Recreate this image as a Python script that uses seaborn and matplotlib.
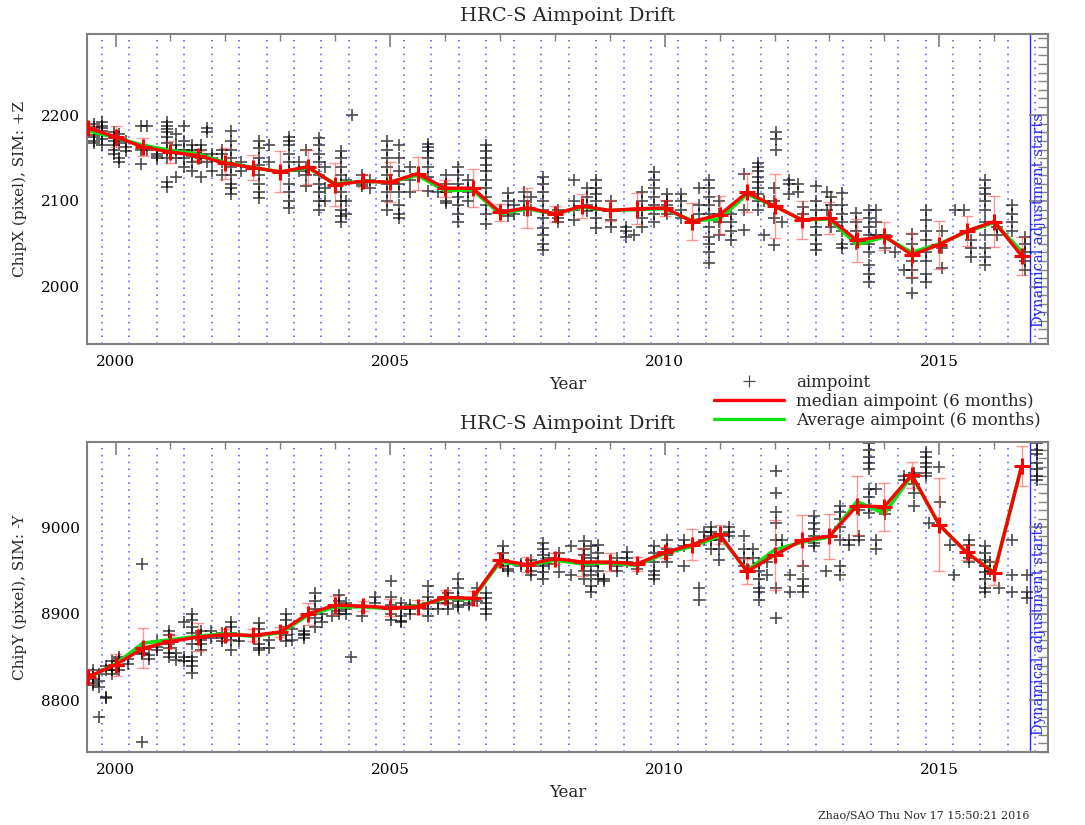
import pandas as pd
import seaborn as sns
import matplotlib.pyplot as plt
from matplotlib.lines import Line2D
from matplotlib.ticker import MultipleLocator

# 6-month bin centres
bin_t = [1999.5, 2000.0, 2000.5, 2001.0, 2001.5, 2002.0, 2002.5, 2003.0, 2003.5,
         2004.0, 2004.5, 2005.0, 2005.5, 2006.0, 2006.5, 2007.0, 2007.5, 2008.0,
         2008.5, 2009.0, 2009.5, 2010.0, 2010.5, 2011.0, 2011.5, 2012.0, 2012.5,
         2013.0, 2013.5, 2014.0, 2014.5, 2015.0, 2015.5, 2016.0, 2016.5]

# bin boundaries (dotted lines)
bound_t = [1999.75, 2000.25, 2000.75, 2001.25, 2001.75, 2002.25, 2002.75, 2003.25,
           2003.75, 2004.25, 2004.75, 2005.25, 2005.75, 2006.25, 2006.75, 2007.25,
           2007.75, 2008.25, 2008.75, 2009.25, 2009.75, 2010.25, 2010.75, 2011.25,
           2011.75, 2012.25, 2012.75, 2013.25, 2013.75, 2014.25, 2014.75, 2015.25,
           2015.75, 2016.25, 2016.75]
dyn_start = 2016.66

# ChipX
x_med = [2185, 2175, 2163, 2157, 2153, 2144, 2139, 2134, 2140, 2119, 2123, 2122,
         2132, 2115, 2115, 2087, 2092, 2085, 2094, 2089, 2091, 2092, 2076, 2084,
         2110, 2094, 2078, 2080, 2054, 2059, 2037, 2049, 2065, 2076, 2036]
x_avg = [2182, 2174, 2165, 2159, 2155, 2145, 2139, 2134, 2139, 2120, 2123, 2122,
         2130, 2112, 2113, 2085, 2091, 2085, 2093, 2089, 2090, 2091, 2077, 2079,
         2108, 2094, 2078, 2079, 2049, 2058, 2040, 2050, 2064, 2075, 2041]
x_err = [4, 12, 10, 13, 5, 18, 15, 24, 20, 25, 7, 23, 19, 10, 22, 10, 23, 9,
         14, 12, 18, 9, 22, 22, 23, 37, 22, 19, 25, 16, 26, 28, 17, 30, 22]

x_obs = [
    (1999.61, [2190, 2186, 2183, 2180, 2177, 2175, 2170, 2168]),
    (1999.76, [2192, 2188, 2185, 2182, 2178, 2172, 2165]),
    (1999.98, [2180, 2175, 2170, 2165, 2160, 2155]),
    (2000.07, [2178, 2168, 2150, 2145]),
    (2000.19, [2170, 2163, 2158]),
    (2000.46, [2188, 2160, 2143]),
    (2000.58, [2188, 2160]),
    (2000.76, [2155, 2152, 2150]),
    (2000.94, [2192, 2188, 2184, 2180, 2175, 2168, 2160, 2150, 2122, 2116]),
    (2001.10, [2178, 2165, 2160, 2150, 2128]),
    (2001.25, [2187, 2170, 2160, 2150, 2140]),
    (2001.40, [2165, 2160, 2152, 2145, 2135]),
    (2001.55, [2165, 2160, 2155, 2150, 2128]),
    (2001.67, [2185, 2180, 2145]),
    (2001.76, [2155, 2150, 2135]),
    (2001.94, [2160, 2155, 2145, 2130]),
    (2002.10, [2182, 2170, 2160, 2150, 2140, 2130, 2120, 2115, 2108]),
    (2002.28, [2145, 2135]),
    (2002.61, [2170, 2162, 2150, 2142, 2130, 2120, 2110, 2103]),
    (2002.79, [2165, 2145]),
    (2003.16, [2175, 2170, 2165, 2155, 2145, 2135, 2120, 2110, 2100, 2092]),
    (2003.34, [2145, 2135]),
    (2003.46, [2160, 2140, 2130, 2118]),
    (2003.70, [2173, 2165, 2155, 2145, 2130, 2120, 2110, 2100, 2090]),
    (2003.82, [2140, 2115, 2100]),
    (2004.10, [2158, 2150, 2140, 2130, 2120, 2110, 2100, 2090, 2082, 2076]),
    (2004.19, [2125, 2100, 2085]),
    (2004.31, [2200]),
    (2004.49, [2130, 2120, 2118]),
    (2004.64, [2125, 2115]),
    (2004.94, [2170, 2160, 2150, 2140, 2130, 2120, 2110, 2100, 2090]),
    (2005.16, [2165, 2150, 2135, 2120, 2110, 2095, 2085, 2080]),
    (2005.37, [2140, 2125, 2110]),
    (2005.69, [2167, 2163, 2158, 2150, 2140, 2128, 2112]),
    (2005.87, [2110]),
    (2006.02, [2130, 2120, 2110, 2100, 2098]),
    (2006.23, [2140, 2130, 2120, 2112, 2105, 2095, 2085, 2075]),
    (2006.41, [2125, 2115, 2110, 2100]),
    (2006.75, [2165, 2158, 2150, 2142, 2135, 2125, 2115, 2105, 2095, 2085, 2073]),
    (2007.14, [2109, 2100, 2090, 2082]),
    (2007.26, [2095, 2085]),
    (2007.44, [2111, 2100, 2090]),
    (2007.56, [2105, 2090]),
    (2007.78, [2128, 2120, 2110, 2100, 2090, 2080, 2068, 2060, 2050, 2043]),
    (2008.05, [2090, 2080, 2075]),
    (2008.35, [2125, 2100, 2090, 2078]),
    (2008.59, [2115, 2105, 2095, 2088]),
    (2008.75, [2125, 2115, 2108, 2100, 2090, 2080, 2068]),
    (2009.02, [2100, 2090, 2078, 2070]),
    (2009.29, [2070, 2065, 2058]),
    (2009.44, [2060]),
    (2009.59, [2110, 2100, 2090, 2080, 2070]),
    (2009.81, [2134, 2125, 2115, 2105, 2095, 2085, 2075]),
    (2010.05, [2108, 2100, 2095, 2085]),
    (2010.29, [2108, 2100, 2090, 2080]),
    (2010.62, [2115, 2095, 2085]),
    (2010.81, [2125, 2115, 2105, 2095, 2085, 2070, 2058, 2050, 2040, 2028]),
    (2010.99, [2100, 2085, 2075, 2060]),
    (2011.20, [2085, 2075, 2065, 2054]),
    (2011.45, [2132, 2090, 2066]),
    (2011.69, [2144, 2140, 2135, 2128, 2122, 2115, 2108, 2100, 2090]),
    (2011.81, [2100, 2060]),
    (2011.99, [2115, 2100, 2080, 2049]),
    (2012.02, [2180, 2172, 2160]),
    (2012.14, [2075]),
    (2012.26, [2125, 2120, 2108]),
    (2012.42, [2120, 2110]),
    (2012.51, [2093, 2085, 2078]),
    (2012.75, [2117, 2100, 2090, 2080, 2070, 2060, 2050, 2043]),
    (2012.96, [2110, 2090]),
    (2013.02, [2105, 2095, 2080, 2070]),
    (2013.23, [2109, 2095, 2085, 2075, 2065, 2050, 2045]),
    (2013.48, [2086, 2075, 2065, 2055, 2050]),
    (2013.72, [2090, 2080, 2070, 2060, 2050, 2040, 2025, 2015, 2005]),
    (2013.84, [2090, 2075, 2060]),
    (2014.02, [2060, 2045]),
    (2014.20, [2040]),
    (2014.35, [2020]),
    (2014.51, [2062, 2050, 2040, 2030, 2020, 2010, 1993]),
    (2014.75, [2090, 2078, 2065, 2055, 2040, 2030, 2015, 2005]),
    (2015.05, [2065, 2045, 2022]),
    (2015.29, [2089]),
    (2015.45, [2089]),
    (2015.57, [2055, 2045, 2035]),
    (2015.84, [2124, 2115, 2108, 2100, 2090, 2075, 2060, 2045, 2035, 2025]),
    (2016.05, [2070, 2060]),
    (2016.32, [2095, 2085, 2075, 2065]),
    (2016.57, [2058, 2050, 2040, 2030, 2020]),
]

# ChipY
y_med = [8827, 8841, 8860, 8868, 8873, 8876, 8875, 8879, 8900, 8910, 8909, 8907,
         8908, 8919, 8918, 8962, 8957, 8964, 8960, 8960, 8958, 8971, 8980, 8992,
         8949, 8968, 8985, 8990, 9025, 9024, 9061, 9003, 8971, 8947, 9071]
y_avg = [8826, 8842, 8866, 8870, 8874, 8877, 8874, 8878, 8898, 8908, 8908, 8906,
         8909, 8918, 8917, 8960, 8956, 8962, 8958, 8959, 8956, 8970, 8978, 8990,
         8950, 8974, 8983, 8989, 9030, 9016, 9060, 9003, 8971, 8948, 9071]
y_err = [8, 13, 23, 8, 16, 6, 7, 6, 13, 11, 6, 10, 8, 8, 8, 8, 9, 6,
         16, 10, 8, 6, 18, 11, 15, 41, 29, 26, 34, 28, 15, 54, 9, 14, 23]

y_obs = [
    (1999.58, [8835, 8830, 8825, 8820, 8818]),
    (1999.70, [8830, 8822, 8815, 8780]),
    (1999.82, [8840, 8835, 8804, 8802]),
    (1999.94, [8845, 8840, 8835, 8830]),
    (2000.07, [8850, 8848, 8845, 8840, 8835]),
    (2000.22, [8848, 8842]),
    (2000.49, [8958, 8860, 8855, 8854, 8752]),
    (2000.61, [8852, 8848]),
    (2000.76, [8868, 8862, 8858]),
    (2000.98, [8880, 8875, 8870, 8865, 8860, 8855, 8850]),
    (2001.10, [8855, 8846]),
    (2001.25, [8891, 8850, 8845]),
    (2001.40, [8900, 8893, 8885, 8878, 8865, 8850, 8845, 8840, 8832]),
    (2001.55, [8880, 8875, 8870, 8865, 8858]),
    (2001.73, [8880, 8872]),
    (2001.94, [8878, 8872, 8868]),
    (2002.10, [8891, 8885, 8878, 8870, 8858]),
    (2002.25, [8874, 8868]),
    (2002.61, [8889, 8882, 8875, 8865, 8860, 8858]),
    (2002.79, [8870, 8860]),
    (2003.10, [8900, 8893, 8885, 8875, 8868]),
    (2003.22, [8882, 8870]),
    (2003.43, [8880, 8877, 8875, 8872]),
    (2003.64, [8924, 8915, 8905, 8895, 8885]),
    (2003.76, [8900, 8890]),
    (2003.94, [8898]),
    (2004.07, [8922, 8915, 8910, 8903, 8900]),
    (2004.19, [8912, 8905, 8900]),
    (2004.28, [8850]),
    (2004.49, [8908, 8898]),
    (2004.73, [8920, 8912]),
    (2005.01, [8938, 8920, 8910, 8900, 8893]),
    (2005.19, [8912, 8905, 8898, 8892, 8890]),
    (2005.37, [8910, 8905, 8900]),
    (2005.69, [8932, 8920, 8912, 8905, 8897]),
    (2005.87, [8912, 8905]),
    (2006.05, [8924, 8918, 8912, 8905]),
    (2006.23, [8940, 8930, 8920, 8915, 8910, 8908]),
    (2006.44, [8912, 8910]),
    (2006.59, [8930, 8915]),
    (2006.75, [8924, 8918, 8912, 8905, 8900]),
    (2007.05, [8978, 8970, 8962, 8955]),
    (2007.14, [8952, 8950]),
    (2007.38, [8958, 8955]),
    (2007.56, [8962, 8955, 8950, 8945]),
    (2007.78, [8982, 8975, 8968, 8960, 8955, 8948, 8940]),
    (2007.90, [8965, 8958]),
    (2008.08, [8970, 8962, 8948]),
    (2008.29, [8978, 8945]),
    (2008.53, [8984, 8975, 8968, 8960, 8950, 8940]),
    (2008.66, [8978, 8965, 8955, 8945, 8932, 8925]),
    (2008.78, [8980, 8970, 8960, 8950, 8940]),
    (2008.90, [8940, 8938]),
    (2009.14, [8965, 8955, 8950]),
    (2009.32, [8972, 8965, 8960]),
    (2009.50, [8958, 8952]),
    (2009.81, [8978, 8970, 8960, 8950, 8945, 8940]),
    (2010.05, [8985, 8975, 8968, 8960]),
    (2010.35, [8985, 8978, 8955]),
    (2010.62, [8930, 8916]),
    (2010.72, [8995, 8985]),
    (2010.84, [9001, 8995, 8990, 8985, 8975]),
    (2010.99, [8985, 8975, 8962]),
    (2011.17, [9000, 8995, 8990]),
    (2011.45, [8990, 8975, 8965, 8955]),
    (2011.60, [8975, 8965]),
    (2011.72, [8959, 8950, 8940, 8930, 8925, 8916]),
    (2011.87, [8960, 8945]),
    (2012.02, [9065, 9040, 9018, 9005, 8985, 8930, 8895]),
    (2012.14, [8985, 8975]),
    (2012.29, [8945, 8925]),
    (2012.51, [8955, 8940, 8932, 8925]),
    (2012.72, [9013, 9005, 8998, 8990, 8982, 8978]),
    (2012.93, [8950]),
    (2013.20, [9025, 9018, 9010, 9000, 8985, 8955, 8945]),
    (2013.35, [8985, 8980]),
    (2013.54, [9020, 8990, 8985]),
    (2013.72, [9098, 9090, 9082, 9075, 9068, 9044, 9035, 9025, 9017]),
    (2013.84, [9045, 8985, 8975]),
    (2014.02, [9020, 9015]),
    (2014.35, [9060, 9055]),
    (2014.54, [9063, 9058, 9050, 9040, 9025]),
    (2014.75, [9087, 9082, 9075, 9070, 9063, 9060]),
    (2014.81, [9005]),
    (2014.99, [9070]),
    (2015.02, [9030]),
    (2015.20, [8980]),
    (2015.26, [8945]),
    (2015.54, [8985, 8980, 8970, 8965, 8960]),
    (2015.84, [8978, 8970, 8962, 8955, 8948, 8940, 8930, 8925]),
    (2015.93, [8960, 8950]),
    (2016.08, [8930]),
    (2016.32, [8985, 8945, 8925]),
    (2016.60, [8945, 8925, 8918]),
    (2016.78, [9098, 9090, 9085, 9075, 9068, 9060, 9055]),
]


def obs_frame(obs):
    rows = []
    for t, vals in obs:
        for v in vals:
            rows.append((t, v))
    return pd.DataFrame(rows, columns=['time', 'pos'])


sns.set_theme(style="white")
plt.rcParams['font.family'] = ['DejaVu Serif']

fig = plt.figure(figsize=(10.85, 8.25), dpi=100)
ax1 = fig.add_axes([0.0802, 0.583, 0.8857, 0.3758])
ax2 = fig.add_axes([0.0802, 0.0885, 0.8857, 0.3758])


def draw_panel(ax, obs, med, avg, err, ylim, ylabel):
    for b in bound_t:
        ax.axvline(b, color='#4d4dff', ls=(0, (1, 3.5)), lw=1.1, zorder=0)
    ax.axvline(dyn_start, color='#2a2aff', lw=1.0, zorder=0)

    df = obs_frame(obs)
    sns.scatterplot(data=df, x='time', y='pos', marker='+', color='black',
                    s=85, linewidth=1.2, alpha=0.7, ax=ax, legend=False, zorder=2)

    ax.errorbar(bin_t, med, yerr=err, fmt='none', ecolor='#ff4040', alpha=0.55,
                capsize=4.5, elinewidth=1.0, capthick=1.0, zorder=3)
    sns.lineplot(x=bin_t, y=avg, color='#10e010', lw=2.6, ax=ax, zorder=4)
    sns.lineplot(x=bin_t, y=med, color='#ff0000', lw=2.4, marker='+',
                 markersize=11, markeredgewidth=2.2, markeredgecolor='#ff0000',
                 ax=ax, zorder=5)

    ax.text(dyn_start + 0.03, ylim[0] + 20, 'Dynamical adjustment starts',
            rotation=90, color='#2a2aff', fontsize=10.5, ha='left', va='bottom')

    ax.set_xlim(1999.48, 2016.98)
    ax.set_ylim(*ylim)
    ax.xaxis.set_major_locator(MultipleLocator(5))
    ax.xaxis.set_minor_locator(MultipleLocator(1))
    ax.yaxis.set_major_locator(MultipleLocator(100))
    ax.yaxis.set_minor_locator(MultipleLocator(10))
    ax.tick_params(which='both', direction='in', top=True, right=True,
                   color='#808080', labelsize=11, labelcolor='black')
    ax.tick_params(which='major', length=14, width=1.2)
    ax.tick_params(which='minor', length=7, width=1.0)
    ax.tick_params(axis='x', which='major', length=9, pad=8)
    ax.tick_params(axis='x', which='minor', length=5)
    ax.tick_params(axis='y', pad=5)
    for sp in ax.spines.values():
        sp.set_color('#808080')
        sp.set_linewidth(1.5)

    ax.set_title('HRC-S Aimpoint Drift', fontsize=14, pad=9)
    ax.set_xlabel('Year', fontsize=12, labelpad=5)
    ax.set_ylabel(ylabel, fontsize=11, labelpad=10)


draw_panel(ax1, x_obs, x_med, x_avg, x_err, (1933, 2295), 'ChipX (pixel), SIM: +Z')
draw_panel(ax2, y_obs, y_med, y_avg, y_err, (8740, 9099), 'ChipY (pixel), SIM: -Y')

handles = [
    Line2D([], [], marker='+', color='black', ls='none', markersize=8, mew=0.9, alpha=0.7),
    Line2D([], [], color='#ff0000', lw=2.4),
    Line2D([], [], color='#10e010', lw=2.4),
]
labels = ['aimpoint', 'median aimpoint (6 months)', 'Average aimpoint (6 months)']
fig.legend(handles, labels, loc='upper left', bbox_to_anchor=(714 / 1085, 1 - 374 / 825),
           frameon=False, fontsize=12, handlelength=4.2, handletextpad=0.7,
           labelspacing=0.12, borderpad=0, borderaxespad=0)

fig.text(818 / 1085, 1 - 815 / 825, 'Zhao/SAO Thu Nov 17 15:50:21 2016',
         fontsize=8, ha='left', va='center')

fig.savefig('out.png', dpi=100)
